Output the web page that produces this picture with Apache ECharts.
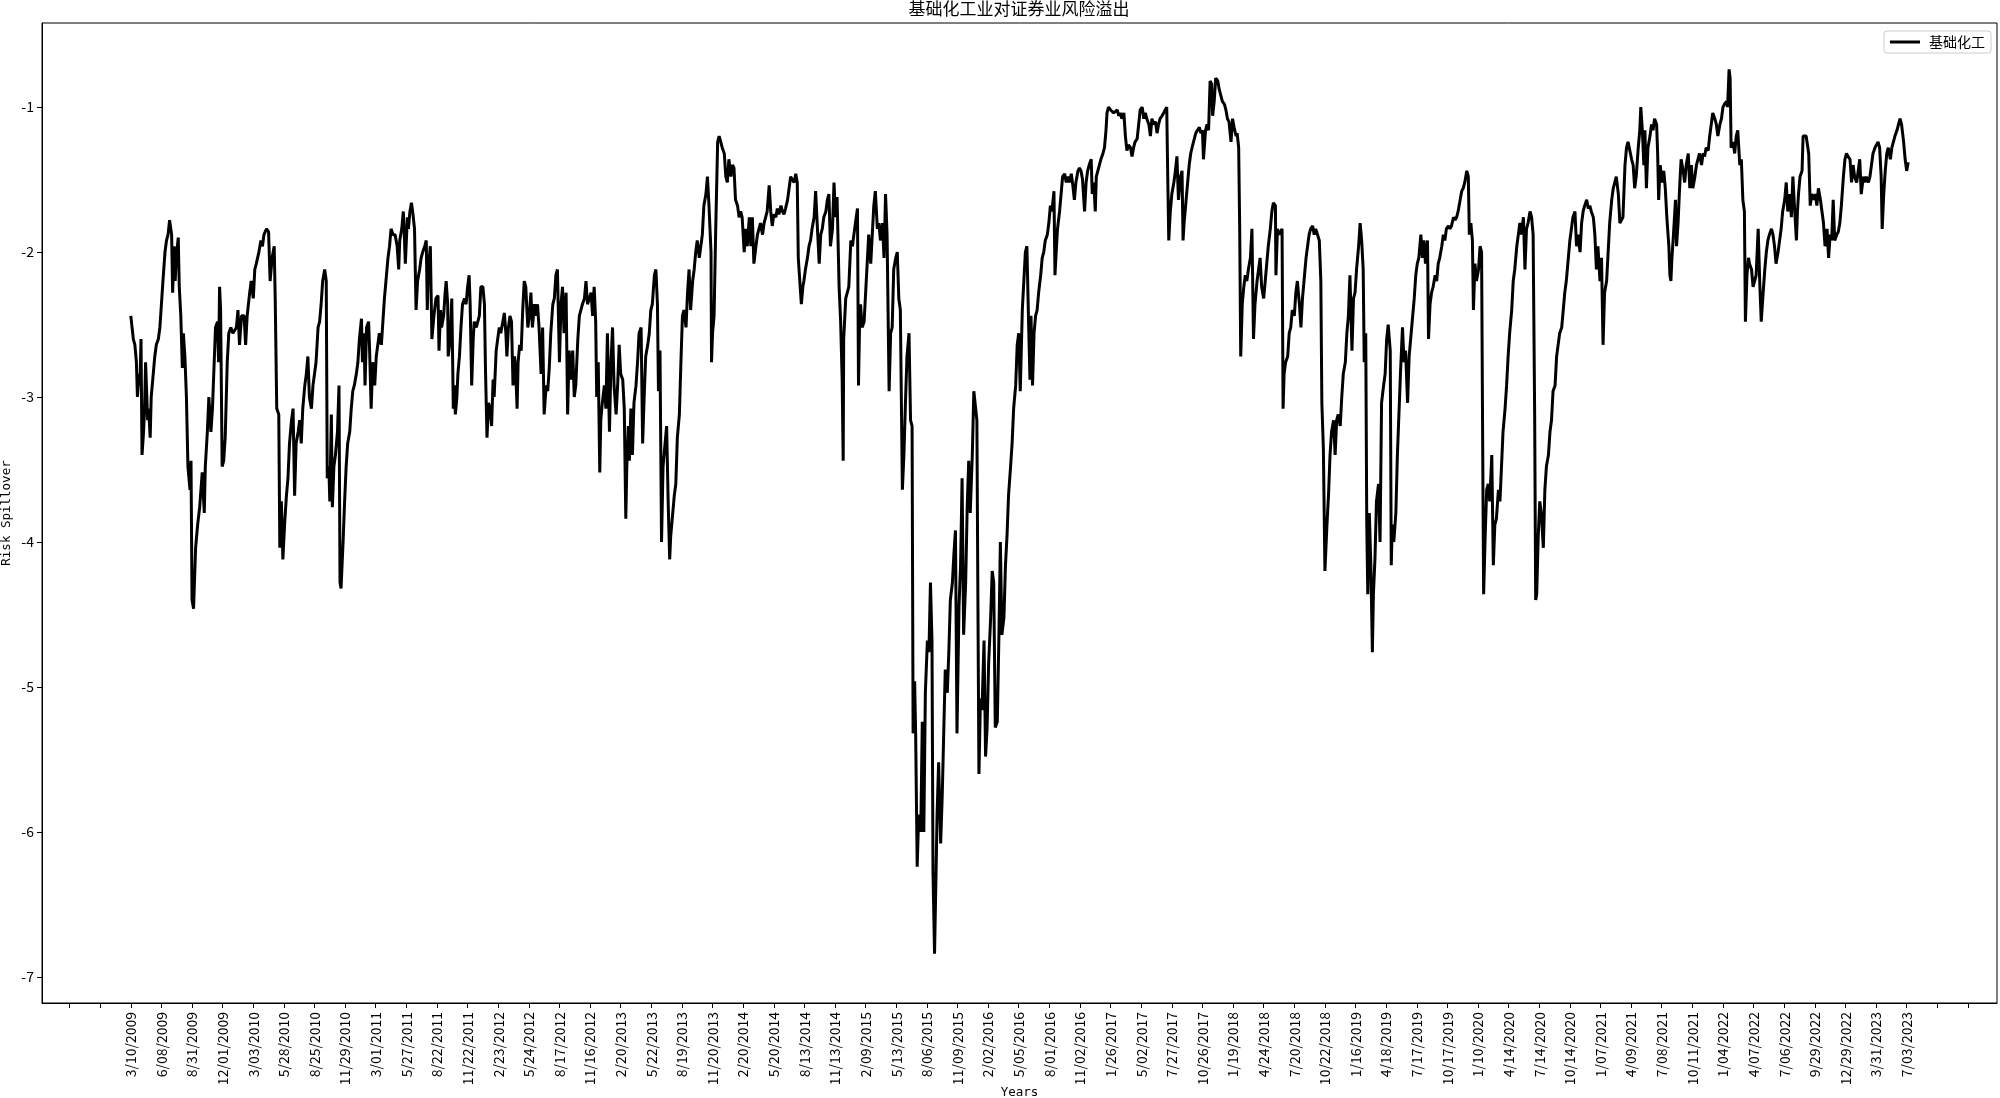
<!DOCTYPE html>
<html>
<head>
<meta charset="utf-8">
<title>基础化工业对证券业风险溢出</title>
<script src="https://cdn.jsdelivr.net/npm/echarts@6/dist/echarts.min.js"></script>
<style>
  html, body { margin: 0; padding: 0; background: #fff; }
  #chart { width: 2000px; height: 1098px; }
</style>
</head>
<body>
<div id="chart"></div>
<script>
// x = trading-day number counted from 3/10/2009, y = risk spillover
var tickStep = 60;
var tickLabels = ['3/10/2009', '6/08/2009', '8/31/2009', '12/01/2009', '3/03/2010', '5/28/2010', '8/25/2010',
    '11/29/2010', '3/01/2011', '5/27/2011', '8/22/2011', '11/22/2011', '2/23/2012', '5/24/2012', '8/17/2012',
    '11/16/2012', '2/20/2013', '5/22/2013', '8/19/2013', '11/20/2013', '2/20/2014', '5/20/2014', '8/13/2014',
    '11/13/2014', '2/09/2015', '5/13/2015', '8/06/2015', '11/09/2015', '2/02/2016', '5/05/2016', '8/01/2016',
    '11/02/2016', '1/26/2017', '5/02/2017', '7/27/2017', '10/26/2017', '1/19/2018', '4/24/2018', '7/20/2018',
    '10/22/2018', '1/16/2019', '4/18/2019', '7/17/2019', '10/17/2019', '1/10/2020', '4/14/2020', '7/14/2020',
    '10/14/2020', '1/07/2021', '4/09/2021', '7/08/2021', '10/11/2021', '1/04/2022', '4/07/2022', '7/06/2022',
    '9/29/2022', '12/29/2022', '3/31/2023', '7/03/2023'];

var seg2009 = [[0,-2.44],[3,-2.44],[5,-2.60],[8,-2.64],[11,-2.76],[13,-3.00],[16,-2.84],[18,-2.92],[20,-2.60],[22,-3.40],
    [25,-3.24],[27,-3.08],[29,-2.76],[33,-3.16],[35,-3.08],[38,-3.28],[40,-3.00],[44,-2.84],[47,-2.72],[50,-2.64],
    [54,-2.60],[57,-2.52],[60,-2.36],[63,-2.20],[67,-2.00],[70,-1.92],[73,-1.88],[76,-1.78],[80,-1.88],[82,-2.28],
    [85,-1.96],[87,-2.20],[89,-2.04],[93,-1.90],[95,-2.24],[98,-2.44],[101,-2.80],[103,-2.56],[106,-2.72],[109,-3.00],
    [112,-3.48],[116,-3.64],[118,-3.44],[120,-4.40],[123,-4.46],[127,-4.04],[131,-3.88],[135,-3.76],[140,-3.52],[144,-3.80],
    [146,-3.48],[150,-3.24],[153,-3.00],[157,-3.24],[160,-3.08],[163,-2.80],[166,-2.52],[170,-2.48],[172,-2.76],[174,-2.24],
    [176,-2.40],[179,-3.48],[182,-3.44],[185,-3.28],[189,-2.76],[192,-2.56],[196,-2.52],[200,-2.56],[207,-2.52],[210,-2.40],
    [213,-2.64],[217,-2.44],[222,-2.44],[225,-2.64],[228,-2.44],[233,-2.28],[236,-2.20],[240,-2.32],[243,-2.12],[246,-2.08],
    [251,-2.00],[255,-1.92],[258,-1.96],[261,-1.88],[266,-1.84],[270,-1.86],[273,-2.20],[277,-2.04],[281,-1.96],[283,-2.32],
    [286,-3.08],[290,-3.12],[292,-4.04],[295,-3.72],[298,-4.12],[302,-3.84],[305,-3.68],[308,-3.56],[311,-3.32],[315,-3.16],
    [318,-3.08],[321,-3.68],[324,-3.32],[328,-3.24],[331,-3.16],[334,-3.32],[337,-3.08],[341,-2.92],[344,-2.84],[347,-2.72],
    [350,-3.00],[354,-3.08],[357,-2.92],[360,-2.84],[363,-2.76],[367,-2.52],[370,-2.48],[373,-2.36],[376,-2.20],[380,-2.12],
    [383,-2.20],[385,-3.56],[388,-3.48],[390,-3.72],[393,-3.12],[395,-3.76],[398,-3.48],[401,-3.40],[405,-3.24],[408,-2.92],
    [410,-4.28],[412,-4.32],[416,-4.00],[419,-3.72],[422,-3.48],[425,-3.32],[429,-3.24],[432,-3.08],[435,-2.96],[438,-2.92],
    [442,-2.84],[445,-2.76],[448,-2.60],[452,-2.46],[454,-2.76],[457,-2.56],[459,-2.92],[462,-2.52],[466,-2.48],[468,-2.68],
    [471,-3.08],[474,-2.76],[478,-2.92],[481,-2.72],[484,-2.64],[487,-2.56],[491,-2.64],[494,-2.48],[497,-2.32],[500,-2.20],
    [504,-2.04],[507,-1.96],[510,-1.84],[514,-1.88],[518,-1.88],[522,-1.96],[525,-2.12],[527,-1.92],[531,-1.84],[534,-1.72],
    [536,-1.88],[538,-2.08],[542,-1.76],[544,-1.84],[547,-1.72],[550,-1.66],[553,-1.74],[556,-1.84],[559,-2.40],[562,-2.20],
    [566,-2.12],[569,-2.04],[572,-2.00],[576,-1.96]];

var seg2011 = [[579,-1.92],[581,-2.40],[583,-2.12],[587,-1.96],[590,-2.60],[594,-2.44],[598,-2.32],[602,-2.30],[604,-2.68],
    [607,-2.40],[609,-2.52],[613,-2.44],[616,-2.28],[618,-2.20],[621,-2.36],[622,-2.72],[626,-2.60],[629,-2.32],[632,-3.08],
    [634,-2.92],[636,-3.12],[639,-3.00],[641,-2.84],[644,-2.72],[647,-2.52],[650,-2.36],[654,-2.32],[657,-2.36],[660,-2.24],
    [663,-2.16],[665,-2.36],[668,-2.92],[671,-2.60],[673,-2.48],[677,-2.52],[680,-2.48],[683,-2.44],[686,-2.24],[690,-2.24],
    [693,-2.36],[695,-2.80],[698,-3.28],[701,-3.04],[704,-3.08],[707,-3.20],[710,-2.88],[712,-3.00],[716,-2.68],[719,-2.60],
    [722,-2.52],[725,-2.56],[729,-2.48],[732,-2.42],[735,-2.56],[737,-2.72],[740,-2.52],[743,-2.44],[746,-2.48],[749,-2.92],
    [752,-2.72],[754,-2.80],[757,-3.08],[759,-2.76],[762,-2.64],[765,-2.68],[768,-2.40],[771,-2.20],[774,-2.24],[778,-2.52],
    [781,-2.44],[784,-2.28],[787,-2.52],[791,-2.36],[794,-2.44],[797,-2.36],[800,-2.52],[804,-2.84],[807,-2.52],[810,-3.12],
    [814,-2.92],[817,-2.96],[820,-2.80],[823,-2.56],[827,-2.36],[830,-2.32],[833,-2.16],[836,-2.12],[840,-2.76],[843,-2.36],
    [846,-2.24],[849,-2.56],[853,-2.28],[856,-3.12],[859,-2.68],[862,-2.88],[866,-2.68],[869,-3.00],[872,-2.92],[876,-2.60],
    [879,-2.44],[882,-2.40],[885,-2.36],[889,-2.32],[892,-2.20],[895,-2.36],[898,-2.36],[902,-2.28],[905,-2.44],[908,-2.24],
    [911,-2.48],[913,-3.00],[916,-2.76],[919,-3.52],[921,-3.16],[924,-3.04],[928,-2.92],[931,-3.08],[934,-2.56],[938,-3.24],
    [941,-2.76],[944,-2.52],[947,-2.92],[951,-3.12],[954,-2.92],[957,-2.64],[960,-2.84],[964,-2.88],[967,-3.08],[970,-3.84],
    [972,-3.48],[975,-3.20],[977,-3.44],[980,-3.08],[983,-3.40],[986,-3.04],[990,-2.92],[993,-2.76],[996,-2.56],[1000,-2.52],
    [1003,-3.32],[1006,-3.00],[1009,-2.72],[1013,-2.64],[1016,-2.56],[1019,-2.40],[1022,-2.36],[1026,-2.16],[1029,-2.12],
    [1032,-2.36],[1034,-2.96],[1037,-2.68],[1040,-4.00],[1043,-3.48],[1046,-3.36],[1050,-3.20],[1053,-3.72],[1056,-4.12],
    [1058,-3.96],[1061,-3.84],[1065,-3.68],[1068,-3.60],[1071,-3.28],[1075,-3.12],[1078,-2.76],[1081,-2.44],[1084,-2.40],
    [1088,-2.52],[1091,-2.28],[1094,-2.12],[1097,-2.40],[1101,-2.20],[1104,-2.12],[1107,-2.00],[1110,-1.92],[1114,-2.04],
    [1117,-1.96],[1120,-1.88],[1123,-1.68],[1127,-1.60],[1130,-1.48],[1133,-1.68],[1137,-2.00],[1138,-2.76],[1140,-2.56],
    [1143,-2.44],[1146,-1.88],[1150,-1.24],[1153,-1.20],[1156,-1.24],[1159,-1.28],[1163,-1.32]];

var seg2014 = [[1166,-1.48],[1169,-1.52],[1172,-1.36],[1176,-1.48],[1179,-1.40],[1182,-1.42],[1185,-1.64],[1189,-1.68],
    [1192,-1.76],[1195,-1.72],[1198,-1.76],[1202,-2.00],[1205,-1.84],[1208,-1.96],[1212,-1.76],[1215,-1.96],[1218,-1.76],
    [1221,-2.08],[1225,-1.96],[1228,-1.88],[1231,-1.84],[1234,-1.80],[1238,-1.88],[1241,-1.80],[1244,-1.76],[1247,-1.72],
    [1251,-1.54],[1254,-1.72],[1257,-1.82],[1260,-1.74],[1264,-1.76],[1267,-1.70],[1270,-1.74],[1274,-1.68],[1277,-1.72],
    [1280,-1.74],[1283,-1.70],[1287,-1.64],[1290,-1.56],[1293,-1.48],[1296,-1.50],[1300,-1.52],[1303,-1.46],[1306,-1.52],
    [1308,-2.04],[1311,-2.04],[1314,-2.36],[1317,-2.24],[1319,-2.20],[1322,-2.12],[1326,-2.04],[1329,-1.96],[1332,-1.92],
    [1335,-1.84],[1339,-1.76],[1342,-1.58],[1345,-1.80],[1349,-2.08],[1352,-1.88],[1355,-1.84],[1358,-1.76],[1362,-1.72],
    [1365,-1.64],[1368,-1.60],[1371,-1.96],[1375,-1.84],[1378,-1.52],[1381,-1.76],[1384,-1.62],[1388,-2.24],[1391,-2.48],
    [1394,-2.88],[1396,-3.44],[1397,-2.60],[1401,-2.32],[1404,-2.28],[1407,-2.24],[1411,-1.92],[1414,-1.96],[1417,-1.88],
    [1420,-1.80],[1424,-1.70],[1426,-2.92],[1428,-2.52],[1430,-2.36],[1433,-2.52],[1437,-2.48],[1440,-2.28],[1443,-2.08],
    [1446,-1.88],[1450,-2.08],[1453,-1.88],[1456,-1.68],[1459,-1.58],[1463,-1.84],[1466,-1.80],[1469,-1.92],[1473,-1.80],
    [1476,-2.04],[1479,-1.60],[1482,-1.88],[1486,-2.96],[1489,-2.56],[1492,-2.52],[1495,-2.12],[1499,-2.04],[1502,-2.00],
    [1505,-2.32],[1508,-2.40],[1512,-3.64],[1515,-3.40],[1518,-3.04],[1521,-2.72],[1525,-2.56],[1528,-3.16],[1531,-3.20],
    [1533,-5.32],[1536,-4.96],[1538,-5.32],[1541,-6.24],[1544,-5.88],[1548,-6.00],[1551,-5.24],[1554,-6.00],[1557,-5.04],
    [1561,-4.68],[1564,-4.76],[1567,-4.28],[1570,-4.68],[1572,-6.28],[1575,-6.84],[1578,-6.28],[1580,-5.88],[1583,-5.52],
    [1587,-6.08],[1590,-5.76],[1593,-5.32],[1596,-4.88],[1600,-5.04],[1603,-4.76],[1606,-4.40],[1610,-4.28],[1613,-4.08],
    [1616,-3.92],[1619,-5.32],[1623,-4.44],[1626,-4.16],[1629,-3.56],[1632,-4.64],[1636,-4.28],[1639,-3.76],[1642,-3.44],
    [1645,-3.80],[1649,-3.40],[1652,-2.96],[1655,-2.96],[1658,-3.16],[1660,-4.40],[1662,-5.60],[1665,-5.08],[1668,-5.16],
    [1672,-4.68],[1675,-5.48],[1678,-5.28],[1681,-4.84],[1685,-4.52],[1688,-4.20],[1691,-4.28],[1694,-5.28],[1698,-5.24],
    [1701,-4.68],[1704,-4.00],[1707,-4.64],[1711,-4.52],[1714,-4.16],[1717,-3.96],[1720,-3.68],[1724,-3.48],[1727,-3.32],
    [1730,-3.08],[1734,-2.92],[1737,-2.64],[1740,-2.56],[1743,-2.96],[1747,-2.40],[1750,-2.20]];

var seg2016 = [[1753,-2.00],[1756,-1.96],[1759,-2.44],[1762,-2.88],[1764,-2.44],[1767,-2.92],[1770,-2.56],[1773,-2.44],
    [1776,-2.40],[1779,-2.28],[1783,-2.16],[1786,-2.04],[1789,-2.00],[1792,-1.92],[1796,-1.88],[1799,-1.80],[1802,-1.68],
    [1805,-1.72],[1809,-1.58],[1811,-2.16],[1814,-1.96],[1816,-1.84],[1820,-1.72],[1823,-1.60],[1826,-1.48],[1830,-1.46],
    [1833,-1.52],[1836,-1.48],[1839,-1.52],[1843,-1.46],[1846,-1.54],[1849,-1.64],[1852,-1.52],[1856,-1.44],[1859,-1.42],
    [1862,-1.44],[1865,-1.50],[1869,-1.72],[1872,-1.52],[1875,-1.44],[1878,-1.40],[1882,-1.36],[1884,-1.60],[1887,-1.52],
    [1890,-1.72],[1892,-1.48],[1895,-1.44],[1898,-1.40],[1901,-1.36],[1905,-1.32],[1908,-1.28],[1911,-1.16],[1913,-1.04],
    [1916,-1.00],[1920,-1.02],[1923,-1.02],[1926,-1.04],[1929,-1.04],[1933,-1.02],[1936,-1.06],[1939,-1.04],[1942,-1.08],
    [1946,-1.04],[1949,-1.20],[1952,-1.30],[1955,-1.26],[1959,-1.28],[1962,-1.34],[1965,-1.28],[1968,-1.24],[1972,-1.22],
    [1975,-1.12],[1978,-1.02],[1982,-1.00],[1985,-1.08],[1988,-1.04],[1991,-1.08],[1995,-1.12],[1998,-1.20],[2001,-1.08],
    [2004,-1.12],[2008,-1.10],[2011,-1.18],[2014,-1.12],[2017,-1.08],[2021,-1.06],[2024,-1.04],[2027,-1.02],[2030,-1.00],
    [2032,-1.48],[2034,-1.92],[2037,-1.72],[2040,-1.60],[2044,-1.52],[2047,-1.44],[2050,-1.34],[2053,-1.64],[2057,-1.48],
    [2060,-1.44],[2062,-1.92],[2064,-1.80],[2068,-1.64],[2071,-1.52],[2074,-1.40],[2077,-1.32],[2081,-1.26],[2084,-1.22],
    [2087,-1.18],[2090,-1.16],[2094,-1.14],[2097,-1.18],[2100,-1.16],[2102,-1.36],[2106,-1.16],[2109,-1.12],[2112,-1.16],
    [2115,-0.82],[2118,-0.84],[2120,-1.06],[2123,-0.96],[2126,-0.80],[2130,-0.82],[2133,-0.88],[2136,-0.92],[2139,-0.96],
    [2143,-0.98],[2146,-1.02],[2149,-1.08],[2152,-1.10],[2156,-1.24],[2159,-1.08],[2162,-1.14],[2166,-1.20],[2168,-1.18],
    [2171,-1.28],[2173,-1.84],[2175,-2.72],[2178,-2.36],[2181,-2.24],[2184,-2.16],[2187,-2.20],[2190,-2.12],[2194,-2.04],
    [2197,-1.84],[2200,-2.60],[2203,-2.36],[2207,-2.20],[2210,-2.12],[2213,-2.04],[2216,-2.24],[2220,-2.32],[2223,-2.20],
    [2226,-2.08],[2229,-1.96],[2233,-1.84],[2236,-1.72],[2239,-1.66],[2243,-1.68],[2244,-2.16],[2247,-1.84],[2250,-1.88],
    [2252,-1.88],[2256,-1.84],[2258,-3.08],[2260,-2.84],[2263,-2.76],[2267,-2.72],[2270,-2.56],[2273,-2.52],[2276,-2.40],
    [2280,-2.44],[2283,-2.28],[2286,-2.20],[2290,-2.36],[2293,-2.52],[2296,-2.32],[2299,-2.20],[2303,-2.04],[2306,-1.96],
    [2309,-1.88],[2312,-1.84],[2316,-1.82],[2319,-1.88],[2322,-1.84],[2325,-1.84],[2329,-1.92],[2332,-2.20],[2334,-3.04],
    [2337,-3.36]];

var seg2018 = [[2340,-4.20],[2344,-3.88],[2347,-3.68],[2350,-3.40],[2353,-3.24],[2357,-3.16],[2360,-3.40],[2363,-3.16],
    [2366,-3.12],[2370,-3.20],[2373,-3.00],[2376,-2.84],[2380,-2.76],[2383,-2.56],[2386,-2.44],[2389,-2.16],[2393,-2.68],
    [2396,-2.32],[2399,-2.28],[2402,-2.12],[2406,-1.96],[2409,-1.80],[2412,-1.92],[2415,-2.12],[2417,-2.76],[2420,-2.56],
    [2422,-3.88],[2424,-4.36],[2427,-3.80],[2430,-4.16],[2433,-4.76],[2435,-4.36],[2438,-4.12],[2441,-3.72],[2445,-3.60],
    [2448,-4.00],[2451,-3.04],[2455,-2.92],[2458,-2.84],[2461,-2.60],[2464,-2.50],[2468,-2.68],[2470,-4.16],[2472,-3.88],
    [2475,-4.00],[2479,-3.80],[2482,-3.40],[2485,-3.12],[2488,-2.84],[2492,-2.52],[2495,-2.76],[2498,-2.68],[2502,-3.04],
    [2505,-2.72],[2508,-2.60],[2511,-2.48],[2515,-2.32],[2518,-2.16],[2521,-2.08],[2524,-2.04],[2528,-1.88],[2531,-2.04],
    [2534,-1.92],[2537,-2.08],[2541,-1.92],[2543,-2.60],[2546,-2.36],[2549,-2.28],[2552,-2.24],[2556,-2.16],[2559,-2.20],
    [2562,-2.08],[2565,-2.04],[2569,-1.96],[2572,-1.88],[2575,-1.92],[2578,-1.84],[2582,-1.82],[2585,-1.84],[2588,-1.82],
    [2592,-1.76],[2595,-1.78],[2598,-1.76],[2601,-1.72],[2605,-1.64],[2608,-1.58],[2611,-1.56],[2614,-1.52],[2618,-1.44],
    [2621,-1.48],[2623,-1.88],[2626,-1.80],[2629,-1.92],[2631,-2.40],[2634,-2.08],[2637,-2.20],[2641,-2.12],[2644,-1.96],
    [2647,-2.00],[2649,-3.24],[2651,-4.36],[2654,-3.96],[2657,-3.64],[2660,-3.60],[2663,-3.72],[2667,-3.40],[2670,-4.16],
    [2673,-3.88],[2676,-3.84],[2680,-3.64],[2683,-3.72],[2686,-3.48],[2689,-3.24],[2693,-3.08],[2696,-2.92],[2699,-2.72],
    [2702,-2.56],[2706,-2.40],[2709,-2.20],[2712,-2.12],[2716,-1.96],[2719,-1.88],[2722,-1.80],[2725,-1.88],[2729,-1.76],
    [2732,-2.12],[2735,-1.84],[2738,-1.80],[2742,-1.72],[2745,-1.76],[2748,-1.88],[2751,-3.12],[2753,-4.40],[2755,-4.36],
    [2758,-3.96],[2761,-3.72],[2764,-3.80],[2768,-4.04],[2771,-3.64],[2774,-3.48],[2778,-3.40],[2781,-3.24],[2784,-3.16],
    [2787,-2.96],[2791,-2.92],[2794,-2.72],[2797,-2.64],[2800,-2.56],[2804,-2.52],[2807,-2.40],[2810,-2.28],[2813,-2.20],
    [2817,-2.04],[2820,-1.92],[2823,-1.84],[2826,-1.76],[2830,-1.72],[2833,-1.96],[2836,-1.88],[2840,-2.00],[2843,-1.80],
    [2846,-1.72],[2849,-1.68],[2853,-1.64],[2856,-1.70],[2859,-1.68],[2862,-1.72],[2866,-1.76],[2869,-1.88],[2872,-2.12],
    [2875,-1.96],[2879,-2.20],[2882,-2.04],[2885,-2.64],[2888,-2.28],[2892,-2.20],[2895,-2.00],[2898,-1.80],[2902,-1.64],
    [2905,-1.56],[2908,-1.52],[2911,-1.48],[2915,-1.60],[2918,-1.80],[2921,-1.80],[2924,-1.76]];

var seg2021 = [[2928,-1.40],[2931,-1.28],[2934,-1.24],[2937,-1.24],[2941,-1.36],[2944,-1.40],[2947,-1.56],[2950,-1.48],
    [2954,-1.28],[2957,-1.16],[2959,-1.00],[2962,-1.16],[2965,-1.40],[2967,-1.16],[2970,-1.56],[2973,-1.28],[2977,-1.20],
    [2980,-1.12],[2983,-1.16],[2986,-1.08],[2990,-1.12],[2992,-1.32],[2994,-1.64],[2997,-1.40],[3001,-1.52],[3004,-1.44],
    [3007,-1.56],[3010,-1.76],[3014,-1.96],[3016,-2.16],[3018,-2.20],[3020,-2.04],[3023,-1.88],[3027,-1.64],[3029,-1.96],
    [3032,-1.80],[3035,-1.56],[3038,-1.36],[3042,-1.44],[3045,-1.52],[3048,-1.40],[3052,-1.32],[3055,-1.56],[3058,-1.40],
    [3061,-1.56],[3065,-1.48],[3068,-1.40],[3071,-1.36],[3074,-1.32],[3078,-1.40],[3081,-1.32],[3084,-1.34],[3087,-1.28],
    [3091,-1.30],[3094,-1.20],[3097,-1.12],[3100,-1.04],[3104,-1.08],[3107,-1.12],[3110,-1.20],[3114,-1.12],[3117,-1.08],
    [3120,-1.00],[3123,-0.98],[3127,-0.96],[3129,-1.00],[3132,-0.74],[3134,-0.80],[3136,-1.28],[3140,-1.24],[3143,-1.32],
    [3146,-1.20],[3149,-1.16],[3153,-1.40],[3156,-1.36],[3159,-1.64],[3162,-1.72],[3164,-2.48],[3167,-2.16],[3170,-2.04],
    [3172,-2.08],[3176,-2.12],[3179,-2.24],[3182,-2.20],[3185,-2.16],[3189,-1.84],[3192,-2.20],[3195,-2.48],[3198,-2.32],
    [3202,-2.12],[3205,-2.00],[3208,-1.92],[3211,-1.88],[3215,-1.84],[3218,-1.88],[3221,-1.96],[3224,-2.08],[3228,-2.00],
    [3231,-1.92],[3234,-1.84],[3237,-1.72],[3241,-1.64],[3244,-1.52],[3247,-1.72],[3251,-1.60],[3254,-1.76],[3257,-1.48],
    [3260,-1.68],[3264,-1.92],[3266,-1.72],[3268,-1.60],[3271,-1.48],[3275,-1.44],[3277,-1.20],[3280,-1.20],[3283,-1.20],
    [3286,-1.20],[3288,-1.32],[3291,-1.68],[3294,-1.60],[3298,-1.64],[3301,-1.60],[3304,-1.68],[3307,-1.56],[3311,-1.64],
    [3314,-1.72],[3317,-1.80],[3320,-1.96],[3324,-1.84],[3327,-2.04],[3330,-1.88],[3333,-1.92],[3336,-1.64],[3339,-1.92],
    [3343,-1.88],[3346,-1.86],[3349,-1.80],[3352,-1.68],[3356,-1.48],[3359,-1.36],[3362,-1.32],[3365,-1.34],[3369,-1.36],
    [3372,-1.52],[3375,-1.40],[3378,-1.48],[3382,-1.52],[3385,-1.44],[3388,-1.36],[3391,-1.60],[3395,-1.48],[3398,-1.52],
    [3401,-1.48],[3405,-1.52],[3408,-1.48],[3411,-1.48],[3414,-1.32],[3418,-1.28],[3421,-1.26],[3424,-1.24],[3427,-1.28],
    [3430,-1.48],[3432,-1.84],[3435,-1.60],[3438,-1.44],[3441,-1.32],[3444,-1.28],[3448,-1.36],[3451,-1.28],[3454,-1.24],
    [3457,-1.20],[3461,-1.16],[3464,-1.12],[3467,-1.08],[3470,-1.12],[3474,-1.24],[3477,-1.36],[3480,-1.44],[3483,-1.38]];

var spillover = seg2009.concat(seg2011, seg2014, seg2016, seg2018, seg2021);

var tickValues = [];
for (var t = -2 * tickStep; t <= (tickLabels.length + 1) * tickStep; t += tickStep) {
    tickValues.push(t);
}
var yTicks = [-7, -6, -5, -4, -3, -2, -1];

var tickFont = 'Noto Sans CJK SC';
var nameFont = 'DejaVu Sans Mono';
var cjkFont = 'Noto Sans CJK SC';
var lastDay = spillover[spillover.length - 1][0];

var myChart = echarts.init(document.getElementById('chart'));
myChart.setOption({
    animation: false,
    backgroundColor: '#ffffff',
    title: {
        text: '基础化工业对证券业风险溢出',
        left: 1019,
        textAlign: 'center',
        top: 0,
        padding: 0,
        textStyle: { fontFamily: cjkFont, fontSize: 17, fontWeight: 'normal', color: '#000' }
    },
    legend: {
        data: [{ name: '基础化工', icon: 'rect' }],
        right: 9,
        top: 31,
        padding: [4, 6, 4, 6],
        itemWidth: 30,
        itemHeight: 3,
        itemGap: 10,
        borderColor: '#cccccc',
        borderWidth: 1,
        borderRadius: 3,
        backgroundColor: 'rgba(255,255,255,0.8)',
        textStyle: { fontFamily: cjkFont, fontSize: 14, color: '#000', padding: [0, 0, 0, 4] }
    },
    grid: {
        left: 42,
        right: 3,
        top: 23,
        bottom: 95,
        show: true,
        borderColor: '#000',
        borderWidth: 1,
        containLabel: false,
        outerBoundsMode: 'none'
    },
    xAxis: {
        type: 'value',
        min: -Math.round(lastDay * 0.05),
        max: Math.round(lastDay * 1.05),
        name: 'Years',
        nameLocation: 'middle',
        nameGap: 83,
        nameMoveOverlap: false,
        nameTextStyle: { fontFamily: nameFont, fontSize: 12.5, color: '#000' },
        axisLine: { show: true, onZero: false, lineStyle: { color: '#000', width: 1 } },
        axisTick: { show: true, length: 5, customValues: tickValues, lineStyle: { color: '#000' } },
        axisLabel: {
            customValues: tickValues,
            rotate: 90,
            margin: 9,
            fontFamily: tickFont,
            fontSize: 14,
            color: '#000',
            formatter: function (v) {
                var k = Math.round(v / tickStep);
                return (k >= 0 && k < tickLabels.length) ? tickLabels[k] : '';
            }
        },
        splitLine: { show: false }
    },
    yAxis: {
        type: 'value',
        min: -7.18,
        max: -0.42,
        name: 'Risk Spillover',
        nameLocation: 'middle',
        nameRotate: 90,
        nameGap: 29,
        nameMoveOverlap: false,
        nameTextStyle: { fontFamily: nameFont, fontSize: 12.5, color: '#000' },
        axisLine: { show: true, onZero: false, lineStyle: { color: '#000', width: 1 } },
        axisTick: { show: true, length: 5, customValues: yTicks, lineStyle: { color: '#000' } },
        axisLabel: {
            customValues: yTicks,
            margin: 8,
            fontFamily: tickFont,
            fontSize: 14,
            color: '#000',
            formatter: function (v) { return String(v); }
        },
        splitLine: { show: false }
    },
    series: [{
        name: '基础化工',
        type: 'line',
        data: spillover,
        symbol: 'none',
        showSymbol: false,
        lineStyle: { color: '#000', width: 3 },
        itemStyle: { color: '#000' }
    }]
});
</script>
</body>
</html>
